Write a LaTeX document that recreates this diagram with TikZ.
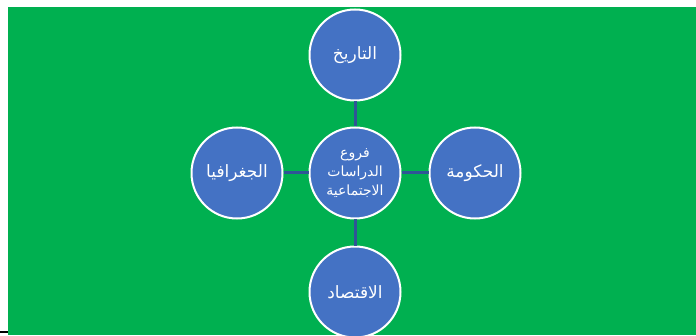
\documentclass[tikz,border=0pt]{standalone}
\usepackage{fontspec}
\usepackage{tikz}
\TeXXeTstate=1
\newfontfamily\arabicfont[Script=Arabic]{DejaVu Sans}
\definecolor{slidegreen}{HTML}{00B050}
\definecolor{bubbleblue}{HTML}{4472C4}
\definecolor{linkblue}{HTML}{2F5597}

\begin{document}
\begin{tikzpicture}[x=1pt,y=1pt,
  bubble/.style={circle,draw=white,line width=2pt,fill=bubbleblue,minimum size=91pt,inner sep=0pt,text=white,font=\arabicfont\fontsize{17}{20}\selectfont,align=center},
  link/.style={draw=linkblue,line width=3pt}]
\useasboundingbox (0,0) rectangle (696,335);
\clip (0,0) rectangle (696,335);
\fill [slidegreen] (8,0) rectangle (696,328);
\fill [black] (0,2) rectangle (8,4);
\node [bubble,font=\arabicfont\fontsize{14}{19}\selectfont] (root) at (355,162) {\beginR فروع\endR\\\beginR الدراسات\endR\\\beginR الاجتماعية\endR};
\node [bubble] (hist) at (355,280) {\beginR التاريخ\endR};
\node [bubble] (econ) at (355,43) {\beginR الاقتصاد\endR};
\node [bubble] (geo) at (237,162) {\beginR الجغرافيا\endR};
\node [bubble] (gov) at (475,162) {\beginR الحكومة\endR};
\draw [link] (root) -- (hist);
\draw [link] (root) -- (econ);
\draw [link] (root) -- (geo);
\draw [link] (root) -- (gov);
\end{tikzpicture}
\end{document}
